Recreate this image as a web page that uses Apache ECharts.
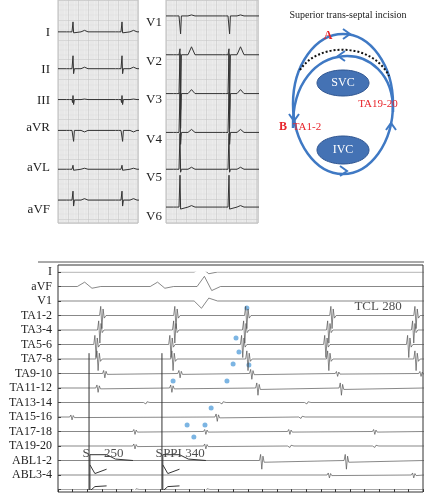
<!DOCTYPE html>
<html><head><meta charset="utf-8">
<script src="https://cdn.jsdelivr.net/npm/echarts@6/dist/echarts.min.js"></script>
<style>html,body{margin:0;padding:0;background:#fff}#c{width:424px;height:500px}</style>
</head><body><div id="c"></div>
<script>
// ---- 12-lead ECG (surface) ----
const leftLeads = ['I','II','III','aVR','aVL','aVF'];
const leftBase = [3.2,6.9,10.0,13.1,17.0,20.1];
const rightLeads = ['V1','V2','V3','V4','V5','V6'];
const rightBase = [1.6,5.5,9.4,13.3,17.0,20.8];
// per lead: [P, q, R, S, T]
const leftWave = [[0.1,0,1.0,-0.1,0.15],[0.1,0,1.3,-0.5,0.15],[0.05,-0.3,0.4,-0.5,0.05],[-0.1,0,0.2,-1.1,-0.15],[0.05,0,0.4,-0.1,0.1],[0.1,0,0.9,-0.6,0.15]];
const rightWave = [[0.05,0,0.2,-1.8,0.1],[0.05,0,0.6,-5.5,0.8],[0.05,0,4.0,-3.5,0.4],[0.05,0,4.0,-1.2,0.3],[0.05,0,3.6,-0.3,0.2],[0.05,0,3.2,-0.2,0.15]];
const leftBeats = [300,1280];
const rightBeats = [280,1260];

// ---- intracardiac recording ----
const rows = ['I','aVF','V1','TA1-2','TA3-4','TA5-6','TA7-8','TA9-10','TA11-12','TA13-14','TA15-16','TA17-18','TA19-20','ABL1-2','ABL3-4',''];
const egm = [
 [[505,0.3]],
 [[106,0.3],[355,0.3],[515,0.7]],
 [[505,-0.5]],
 [[150,0.9],[403,0.9],[645,0.9],[936,0.9],[1223,0.9]],
 [[143,0.9],[399,0.9],[638,0.9],[925,0.9],[1215,0.9]],
 [[130,0.9],[386,0.9],[631,0.9],[915,0.9],[1198,0.9]],
 [[137,0.8],[393,0.8],[649,0.8],[925,0.8],[1223,0.8]],
 [[160,0.3],[417,0.3],[662,0.4],[955,0.2],[1240,0.2]],
 [[137,0.3],[389,0.3],[683,0.5],[968,0.5]],
 [[300,0.1],[560,0.1],[850,0.1]],
 [[48,0.2],[544,0.3],[830,0.1]],
 [[263,0.2],[505,0.2],[792,0.2],[1082,0.2]],
 [[263,0.2],[505,0.2],[792,0.1],[1082,0.1]],
 [[696,0.6],[985,0.6]],
 [[927,0.2],[1215,0.2]],
 [[263,0.1],[505,0.1]]
];
const stimTimes = [106,355];
const stimLabels = ['S','250','S','PPI 340'];
const stars = [[645,2.48],[608,4.55],[618,5.52],[598,6.34],[652,6.41],[393,7.52],[577,7.52],[523,9.38],[441,10.55],[502,10.55],[464,11.38]];

function ecgSeries(beats, base, w, xi) {
  const d = [[0, base]];
  beats.forEach(b => {
    const [P,q,R,S,T] = w;
    [[-130,0],[-100,P],[-70,0],[-20,0],[-10,q],[0,R],[12,S],[28,0],[160,0],[230,T],[300,0]]
      .forEach(([dt,v]) => d.push([b+dt, base - v]));
  });
  d.push([2000, base]);
  return {type:'line', xAxisIndex:xi, yAxisIndex:xi, data:d, showSymbol:false, lineStyle:{color:'#333',width:1}, silent:true};
}
const series = [];
leftLeads.forEach((l,i)=>series.push(ecgSeries(leftBeats,leftBase[i],leftWave[i],0)));
rightLeads.forEach((l,i)=>series.push(ecgSeries(rightBeats,rightBase[i],rightWave[i],1)));

egm.forEach((beats,r)=>{
  const d=[[0,r]];
  beats.forEach(([t,a])=>{
    if (r<3) { [[-40,0],[-15,a],[10,-a*0.4],[40,0]].forEach(([dt,v])=>d.push([t+dt,r-v])); }
    else { [[-8,0],[-4,a*0.7],[0,-a],[4,a*0.5],[8,-a*0.2],[14,0]].forEach(([dt,v])=>d.push([t+dt,r-v])); }
  });
  d.sort((a,b)=>a[0]-b[0]);
  d.push([1250,r]);
  series.push({type:'line',xAxisIndex:2,yAxisIndex:2,data:d,showSymbol:false,lineStyle:{color:'#555',width:0.7},silent:true});
});
// stimulus artifacts
const seg = d => series.push({type:'line',xAxisIndex:2,yAxisIndex:2,data:d,showSymbol:false,lineStyle:{color:'#333',width:1},silent:true});
stimTimes.forEach(s=>{
  seg([[s,5.6],[s,15.2]]);
  seg([[s+3,15.2],[s+3,12.6],[s+60,12.6],[s+90,12.9],[s+150,13.0]]);
  seg([[s+3,13.3],[s+20,13.9],[s+60,13.6]]);
  seg([[s+3,15.1],[s+20,14.8],[s+60,14.75]]);
});
series.push({type:'scatter',xAxisIndex:2,yAxisIndex:2,data:stars,symbol:'circle',symbolSize:5,itemStyle:{color:'#5ba3dc'},silent:true});
series.push({type:'scatter',xAxisIndex:2,yAxisIndex:2,symbolSize:1,itemStyle:{color:'rgba(0,0,0,0)'},silent:true,
  data:[[96,12.55,stimLabels[0]],[190,12.55,stimLabels[1]],[345,12.55,stimLabels[2]],[430,12.55,stimLabels[3]],[1093,2.4,'TCL 280']],
  label:{show:true,formatter:p=>p.data[2],color:'#222',fontFamily:'Liberation Serif',fontSize:13,position:'inside'}});

const gridLine = {show:true,lineStyle:{color:'#c8c8c8',width:0.6}};
const minorLine = {show:true,lineStyle:{color:'#dcdcdc',width:0.4}};
const ecgX = (max,g)=>({gridIndex:g,type:'value',min:0,max:max,interval:200,axisLabel:{show:false},axisLine:{show:false},axisTick:{show:false},splitLine:gridLine,minorTick:{show:false,splitNumber:4},minorSplitLine:minorLine});
const ecgY = g=>({gridIndex:g,type:'value',min:0,max:22.4,inverse:true,interval:2,axisLabel:{show:false},axisLine:{show:false},axisTick:{show:false},splitLine:gridLine,minorTick:{show:false,splitNumber:4},minorSplitLine:minorLine});

const graphic=[];
const T=(x,y,t,font,fill,align)=>graphic.push({type:'text',x:x,y:y,style:{text:t,fill:fill||'#222',font:font||'13px "Liberation Serif"',align:align||'center',verticalAlign:'middle'}});
leftLeads.forEach((l,i)=>T(50,[33,70,101,128,168,210][i],l,null,null,'right'));
rightLeads.forEach((l,i)=>T(162,[23,62,100,140,178,217][i],l,null,null,'right'));
const blue='#3f79c4';
T(348,15,'Superior trans-septal incision','10px "Liberation Serif"');
graphic.push(
  {type:'ellipse',shape:{cx:343,cy:104,rx:50,ry:70},style:{fill:'none',stroke:blue,lineWidth:2.5}},
  {type:'bezierCurve',shape:{x1:293,y1:128,cpx1:291,cpy1:35,cpx2:395,cpy2:35,x2:393,y2:112},style:{fill:'none',stroke:blue,lineWidth:2.5}},
  {type:'bezierCurve',shape:{x1:300,y1:70,cpx1:318,cpy1:42,cpx2:372,cpy2:42,x2:389,y2:76},style:{fill:'none',stroke:'#111',lineWidth:2,lineDash:[2,2]}},
  {type:'polyline',shape:{points:[[343,29],[350,34],[343,39]]},style:{fill:'none',stroke:blue,lineWidth:2}},
  {type:'polyline',shape:{points:[[345,51],[338,56],[345,61]]},style:{fill:'none',stroke:blue,lineWidth:2}},
  {type:'polyline',shape:{points:[[289,114],[294,121],[299,114]]},style:{fill:'none',stroke:blue,lineWidth:2}},
  {type:'polyline',shape:{points:[[386,130],[391,123],[396,130]]},style:{fill:'none',stroke:blue,lineWidth:2}},
  {type:'polyline',shape:{points:[[340,166],[347,171],[340,176]]},style:{fill:'none',stroke:blue,lineWidth:2}},
  {type:'ellipse',shape:{cx:343,cy:83,rx:26,ry:13},style:{fill:'#4472b4',stroke:'#2f5590',lineWidth:1}},
  {type:'ellipse',shape:{cx:343,cy:150,rx:26,ry:14},style:{fill:'#4472b4',stroke:'#2f5590',lineWidth:1}},
  {type:'line',shape:{x1:38,y1:262,x2:424,y2:262},style:{stroke:'#555',lineWidth:1}}
);
T(343,83,'SVC','12px "Liberation Serif"','#fff');
T(343,150,'IVC','12px "Liberation Serif"','#fff');
T(328,36,'A','bold 12px "Liberation Serif"','#e8252b');
T(283,127,'B','bold 12px "Liberation Serif"','#e8252b');
T(307,127,'TA1-2','11px "Liberation Serif"','#e8252b');
T(378,104,'TA19-20','11px "Liberation Serif"','#e8252b');

const chart=echarts.init(document.getElementById('c'));
chart.setOption({
  animation:false,
  grid:[
    {left:58,top:0,width:80,height:223,show:true,backgroundColor:'#ececec',borderColor:'#bbb'},
    {left:166,top:0,width:92,height:223,show:true,backgroundColor:'#ececec',borderColor:'#bbb'},
    {left:58,top:272,right:0,height:217.5},
    {left:58,top:265,right:1,height:227,show:true,borderColor:'#333',borderWidth:1}
  ],
  xAxis:[ecgX(1600,0),ecgX(1840,1),
    {gridIndex:2,type:'value',min:0,max:1250,show:false},
    {gridIndex:3,type:'value',min:0,max:1250,interval:50,axisLabel:{show:false},axisLine:{show:false},axisTick:{show:true,inside:true,length:3,lineStyle:{color:'#333'}},splitLine:{show:false}}],
  yAxis:[ecgY(0),ecgY(1),
    {gridIndex:2,type:'value',min:0,max:15,interval:1,inverse:true,axisLine:{show:false},axisTick:{show:true,inside:true,length:3,lineStyle:{color:'#333'}},splitLine:{show:false},
      axisLabel:{formatter:v=>rows[v]||'',color:'#222',fontFamily:'Liberation Serif',fontSize:12,margin:6}},
    {gridIndex:3,type:'value',show:false}],
  graphic:graphic,
  series:series
});
</script></body></html>
